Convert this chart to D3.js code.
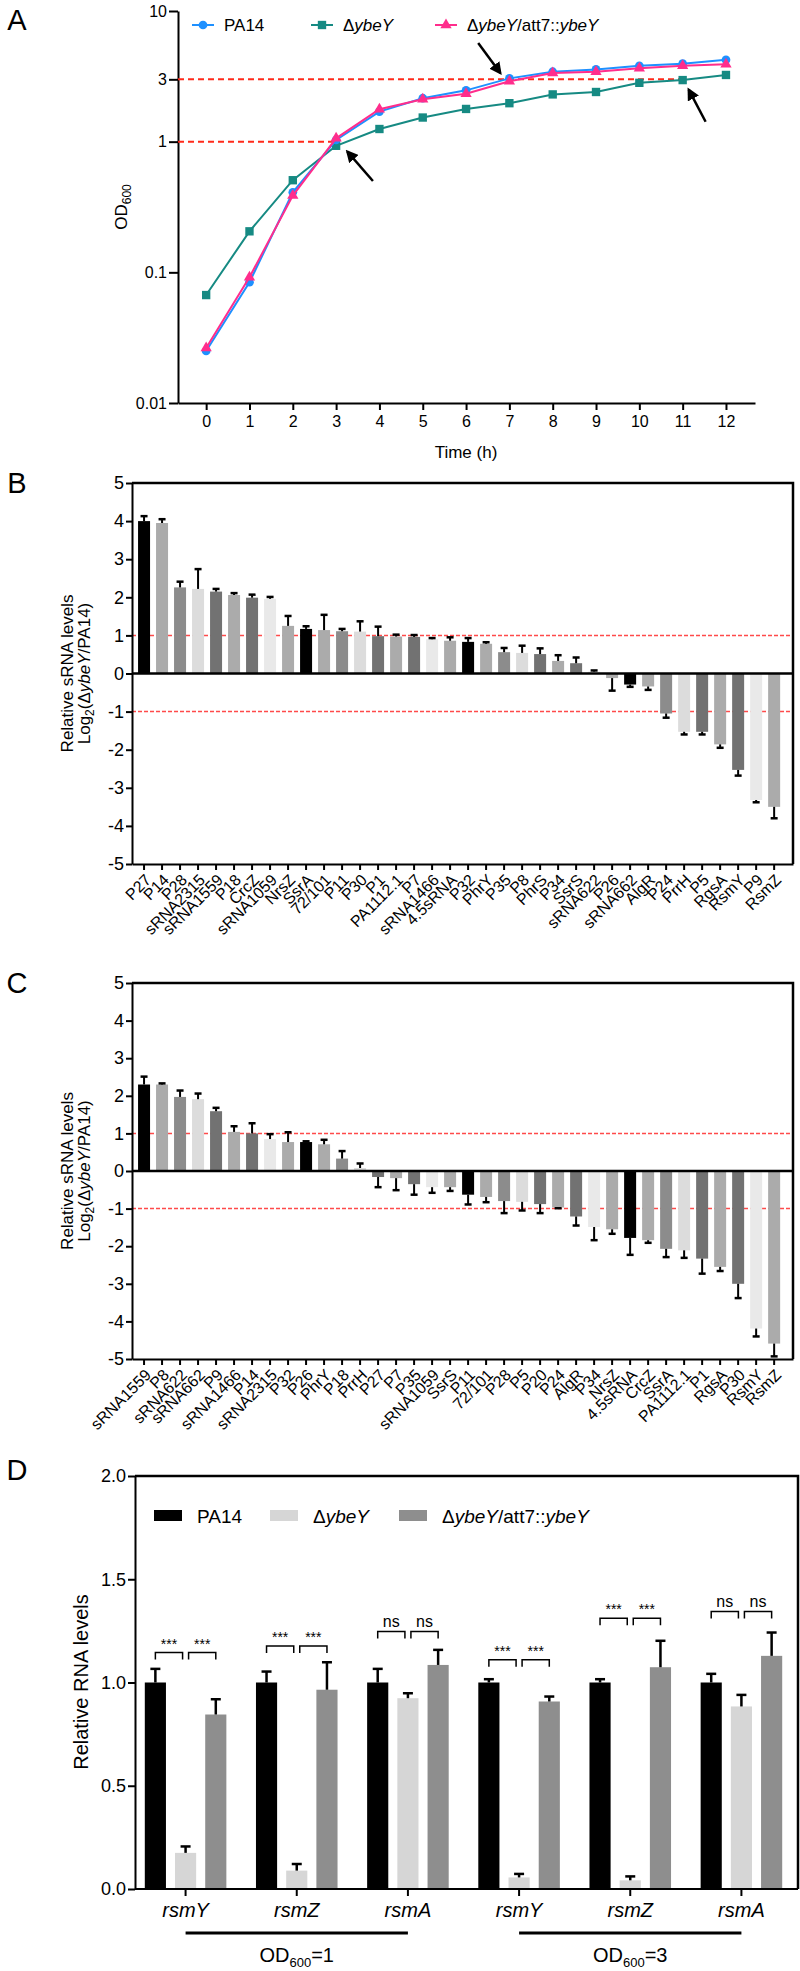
<!DOCTYPE html>
<meta charset="utf-8">
<style>
body { margin: 0; background: #fff; }
svg { font-family: "Liberation Sans", Arial, Helvetica, sans-serif; }
.axis path, .axis line { stroke: #000; stroke-width: 2; fill: none; }
.axis text { fill: #000; font-family: "Liberation Sans", Arial, sans-serif; }
</style>
<body>
<script src="https://cdn.jsdelivr.net/npm/d3@7"></script>
<script>

// ---------- panel A : growth curves ----------
var hours   = [0, 1, 2, 3, 4, 5, 6, 7, 8, 9, 10, 11, 12];
var odPA14  = [0.025, 0.084, 0.41, 1.03, 1.70, 2.15, 2.47, 3.05, 3.43, 3.57, 3.81, 3.95, 4.23];
var odYbeY  = [0.067, 0.206, 0.507, 0.93, 1.25, 1.53, 1.78, 1.97, 2.30, 2.40, 2.82, 2.96, 3.24];
var odComp  = [0.0264, 0.0916, 0.387, 1.06, 1.77, 2.11, 2.33, 2.90, 3.35, 3.43, 3.64, 3.81, 3.91];
var odTicks = [0.01, 0.1, 1, 3, 10];
// dashed guides: OD level, drawn up to this hour
var guideOD   = [1, 3];
var guideHour = [3, 11];
// arrows: tail (h, OD) -> head (h, OD)
var arrowFrom = [[3.85, 0.50], [6.28, 5.7], [11.53, 1.42]];
var arrowTo   = [[3.26, 0.84], [6.79, 3.35], [11.14, 2.5]];

// ---------- panel B : sRNA at OD600 = 1 ----------
var namesB = ["P27","P14","P28","sRNA2315","sRNA1559","P18","CrcZ","sRNA1059","NrsZ","SsrA",
  "72/101","P11","P30","P1","PA1112.1","P7","sRNA1466","4.5sRNA","P32","PhrY",
  "P35","P8","PhrS","P34","SsrS","sRNA622","P26","sRNA662","AlgR","P24",
  "PrrH","P5","RgsA","RsmY","P9","RsmZ"];
var valsB = [4.0, 3.95, 2.26, 2.22, 2.15, 2.06, 1.99, 1.96, 1.25, 1.17,
  1.14, 1.11, 1.10, 0.98, 0.97, 0.96, 0.90, 0.86, 0.83, 0.78,
  0.56, 0.54, 0.51, 0.33, 0.27, 0.05, -0.12, -0.29, -0.34, -1.05,
  -1.53, -1.53, -1.86, -2.53, -3.32, -3.50];
var errB = [0.13, 0.10, 0.15, 0.52, 0.07, 0.05, 0.08, 0.05, 0.26, 0.07,
  0.40, 0.06, 0.27, 0.25, 0.05, 0.05, 0.03, 0.09, 0.10, 0.04,
  0.11, 0.19, 0.15, 0.15, 0.15, 0.03, 0.33, 0.06, 0.09, 0.11,
  0.07, 0.07, 0.09, 0.15, 0.06, 0.30];

// ---------- panel C : sRNA at OD600 = 3 ----------
var namesC = ["sRNA1559","P8","sRNA622","sRNA662","P9","sRNA1466","P14","sRNA2315","P32","P26",
  "PhrY","P18","PrrH","P27","P7","P35","sRNA1059","SsrS","P11","72/101",
  "P28","P5","P20","P24","AlgR","P34","NrsZ","4.5sRNA","CrcZ","SsrA",
  "PA1112.1","P1","RgsA","P30","RsmY","RsmZ"];
var valsC = [2.30, 2.30, 1.97, 1.91, 1.59, 1.04, 1.00, 0.85, 0.77, 0.77,
  0.71, 0.33, 0.08, -0.16, -0.19, -0.35, -0.43, -0.43, -0.63, -0.69,
  -0.80, -0.82, -0.88, -0.97, -1.21, -1.49, -1.55, -1.78, -1.84, -2.07,
  -2.11, -2.33, -2.55, -3.00, -4.19, -4.59];
var errC = [0.21, 0.03, 0.17, 0.15, 0.09, 0.15, 0.27, 0.13, 0.26, 0.02,
  0.12, 0.20, 0.12, 0.27, 0.32, 0.28, 0.15, 0.10, 0.26, 0.14,
  0.32, 0.23, 0.24, 0.02, 0.24, 0.35, 0.12, 0.45, 0.07, 0.22,
  0.20, 0.40, 0.11, 0.38, 0.21, 0.34];

// ---------- panel D : rsmY / rsmZ / rsmA ----------
var genesD   = ["rsmY", "rsmZ", "rsmA", "rsmY", "rsmZ", "rsmA"];
var meanPA14 = [1.0, 1.0, 1.0, 1.0, 1.0, 1.0];
var meanYbeY = [0.175, 0.089, 0.924, 0.056, 0.042, 0.884];
var meanComp = [0.845, 0.965, 1.085, 0.908, 1.074, 1.129];
var sdPA14   = [0.066, 0.053, 0.066, 0.016, 0.016, 0.042];
var sdYbeY   = [0.031, 0.032, 0.024, 0.017, 0.019, 0.056];
var sdComp   = [0.074, 0.133, 0.073, 0.024, 0.128, 0.113];
var sigText  = ["***", "***", "ns", "***", "***", "ns"];
var sigLevel = [1.145, 1.177, 1.247, 1.110, 1.311, 1.344];
var odGroupLabel = ["1", "3"];
var odGroupFirst = [0, 3];
var odGroupLast  = [2, 5];

// bar greys, cycled along the categories
var greys = ["#000000", "#ababab", "#8c8c8c", "#dcdcdc", "#727272", "#ababab", "#727272", "#e9e9e9", "#ababab"];

var svg = d3.select("body").append("svg")
    .attr("width", 800)
    .attr("height", 1971);

function panelLetter(t, x, y) {
  svg.append("text").attr("x", x).attr("y", y)
    .attr("text-anchor", "middle")
    .style("font-size", "29px")
    .text(t);
}

// ================= A =================
panelLetter("A", 17, 30);

var xA = d3.scaleLinear().domain([-0.65, 12.67]).range([178, 755]);
var yA = d3.scaleLog().domain([0.01, 10]).range([403, 11]);

svg.append("g").attr("class", "axis")
    .attr("transform", "translate(0,403)")
    .call(d3.axisBottom(xA).tickValues(hours).tickSize(7).tickSizeOuter(0).tickPadding(6))
    .selectAll("text").style("font-size", "16px");

svg.append("g").attr("class", "axis")
    .attr("transform", "translate(178,0)")
    .call(d3.axisLeft(yA).tickValues(odTicks).tickFormat(function(d) { return String(d); }).tickSize(9).tickSizeOuter(0).tickPadding(2))
    .selectAll("text").style("font-size", "16px");

svg.append("text")
    .attr("x", 466).attr("y", 458)
    .attr("text-anchor", "middle")
    .style("font-size", "17px")
    .text("Time (h)");

var odLab = svg.append("text")
    .attr("transform", "translate(127,207) rotate(-90)")
    .attr("text-anchor", "middle")
    .style("font-size", "17px");
odLab.append("tspan").text("OD");
odLab.append("tspan").attr("dy", 4).style("font-size", "12px").text("600");

// dashed guides
guideOD.forEach(function(od, i) {
  svg.append("line")
    .attr("x1", xA.range()[0]).attr("x2", xA(guideHour[i]))
    .attr("y1", yA(od)).attr("y2", yA(od))
    .attr("stroke", "#ff2a1a").attr("stroke-width", 2)
    .attr("stroke-dasharray", "6,4");
});

var seriesA = [
  { name: "ybeY", vals: odYbeY, color: "#168a83", sym: d3.symbolSquare, size: 70 },
  { name: "PA14", vals: odPA14, color: "#1e90ff", sym: d3.symbolCircle, size: 60 },
  { name: "comp", vals: odComp, color: "#ff2d8c", sym: d3.symbolTriangle, size: 55 }
];

var lineA = d3.line()
    .x(function(d, i) { return xA(hours[i]); })
    .y(function(d) { return yA(d); });

seriesA.forEach(function(s) {
  svg.append("path")
    .attr("d", lineA(s.vals))
    .attr("fill", "none")
    .attr("stroke", s.color)
    .attr("stroke-width", 2);
  svg.selectAll(null).data(s.vals).enter().append("path")
    .attr("d", d3.symbol().type(s.sym).size(s.size))
    .attr("transform", function(d, i) { return "translate(" + xA(hours[i]) + "," + yA(d) + ")"; })
    .attr("fill", s.color);
});

// arrows
svg.append("defs").append("marker")
    .attr("id", "head")
    .attr("viewBox", "0 0 10 10")
    .attr("refX", 8).attr("refY", 5)
    .attr("markerWidth", 5).attr("markerHeight", 5)
    .attr("orient", "auto")
  .append("path")
    .attr("d", "M0,0 L10,5 L0,10 z")
    .attr("fill", "#000");

arrowFrom.forEach(function(a, i) {
  svg.append("line")
    .attr("x1", xA(a[0])).attr("y1", yA(a[1]))
    .attr("x2", xA(arrowTo[i][0])).attr("y2", yA(arrowTo[i][1]))
    .attr("stroke", "#000").attr("stroke-width", 2.5)
    .attr("marker-end", "url(#head)");
});

// legend A
var legA = [
  { x: 192, color: "#1e90ff", sym: d3.symbolCircle, size: 60, parts: [["PA14", "normal"]] },
  { x: 311, color: "#168a83", sym: d3.symbolSquare, size: 70, parts: [["\u0394", "normal"], ["ybeY", "italic"]] },
  { x: 435, color: "#ff2d8c", sym: d3.symbolTriangle, size: 55, parts: [["\u0394", "normal"], ["ybeY", "italic"], ["/att7::", "normal"], ["ybeY", "italic"]] }
];
legA.forEach(function(l) {
  svg.append("line").attr("x1", l.x).attr("x2", l.x + 22).attr("y1", 25).attr("y2", 25)
    .attr("stroke", l.color).attr("stroke-width", 2);
  svg.append("path").attr("d", d3.symbol().type(l.sym).size(l.size)())
    .attr("transform", "translate(" + (l.x + 11) + ",25)").attr("fill", l.color);
  var t = svg.append("text").attr("x", l.x + 32).attr("y", 31).style("font-size", "17px");
  l.parts.forEach(function(p) { t.append("tspan").style("font-style", p[1]).text(p[0]); });
});

// ================= B and C =================
function yLabel2(cx, cy) {
  svg.append("text")
    .attr("transform", "translate(" + cx + "," + cy + ") rotate(-90)")
    .attr("text-anchor", "middle")
    .style("font-size", "17px")
    .text("Relative sRNA levels");
  var t = svg.append("text")
    .attr("transform", "translate(" + (cx + 17) + "," + cy + ") rotate(-90)")
    .attr("text-anchor", "middle")
    .style("font-size", "17px");
  t.append("tspan").text("Log");
  t.append("tspan").attr("dy", 4).style("font-size", "12px").text("2");
  t.append("tspan").attr("dy", -4).text("(\u0394");
  t.append("tspan").style("font-style", "italic").text("ybeY");
  t.append("tspan").text("/PA14)");
}

function sRNAPanel(letter, names, vals, errs, yTop, yBot) {
  var left = 132, right = 793;
  var x = d3.scaleBand().domain(names).range([left, right])
      .paddingInner(1 / 3).paddingOuter(0.525).align(0.32);
  var y = d3.scaleLinear().domain([-5, 5]).range([yBot, yTop]);

  panelLetter(letter, 17, y(5) + 10);
  yLabel2(73, y(0));

  // guides at +-1
  [1, -1].forEach(function(v) {
    svg.append("line")
      .attr("x1", left).attr("x2", right)
      .attr("y1", y(v)).attr("y2", y(v))
      .attr("stroke", "#ff4a4a").attr("stroke-width", 1.5)
      .attr("stroke-dasharray", "4,2");
  });

  var bw = x.bandwidth();
  svg.selectAll(null).data(vals).enter().append("rect")
    .attr("x", function(d, i) { return x(names[i]); })
    .attr("y", function(d) { return Math.min(y(d), y(0)); })
    .attr("width", bw)
    .attr("height", function(d) { return Math.abs(y(d) - y(0)); })
    .attr("fill", function(d, i) { return greys[i % greys.length]; });

  // error bars away from zero
  vals.forEach(function(v, i) {
    var cx = x(names[i]) + bw / 2;
    var end = v >= 0 ? v + errs[i] : v - errs[i];
    svg.append("line").attr("x1", cx).attr("x2", cx)
      .attr("y1", y(v)).attr("y2", y(end))
      .attr("stroke", "#000").attr("stroke-width", 2);
    svg.append("line").attr("x1", cx - 3.5).attr("x2", cx + 3.5)
      .attr("y1", y(end)).attr("y2", y(end))
      .attr("stroke", "#000").attr("stroke-width", 2.5);
  });

  // frame and zero line
  svg.append("path")
    .attr("d", "M" + left + "," + y(5) + "H" + right + "V" + y(-5))
    .attr("fill", "none").attr("stroke", "#000").attr("stroke-width", 2.5);
  svg.append("line").attr("x1", left).attr("x2", right)
    .attr("y1", y(0)).attr("y2", y(0))
    .attr("stroke", "#000").attr("stroke-width", 2.5);

  svg.append("g").attr("class", "axis")
    .attr("transform", "translate(" + left + ",0)")
    .call(d3.axisLeft(y).ticks(10).tickFormat(function(d) { return String(d); }).tickSize(6).tickSizeOuter(0).tickPadding(2))
    .selectAll("text").style("font-size", "18px");

  var gx = svg.append("g").attr("class", "axis")
    .attr("transform", "translate(0," + y(-5) + ")")
    .call(d3.axisBottom(x).tickSize(6).tickSizeOuter(0));
  gx.selectAll("text")
    .attr("text-anchor", "end")
    .attr("x", 0).attr("y", 0).attr("dy", 0)
    .attr("transform", "translate(8,17) rotate(-45)")
    .style("font-size", "16px");
}

sRNAPanel("B", namesB, valsB, errB, 483, 864);
sRNAPanel("C", namesC, valsC, errC, 983, 1359);

// ================= D =================
panelLetter("D", 17, 1480);

var xD = d3.scaleBand().domain(d3.range(genesD.length)).range([130, 797]).paddingInner(0).paddingOuter(0);
var strainsD = ["PA14", "ybeY", "comp"];
var xSub = d3.scaleBand().domain(strainsD).range([0, xD.bandwidth()]).paddingInner(0.3).paddingOuter(0.49);
var yD = d3.scaleLinear().domain([0, 2]).range([1889, 1476]);
var colD = { PA14: "#000000", ybeY: "#d6d6d6", comp: "#8e8e8e" };
var meansD = { PA14: meanPA14, ybeY: meanYbeY, comp: meanComp };
var sdsD = { PA14: sdPA14, ybeY: sdYbeY, comp: sdComp };

function cxD(g, s) { return xD(g) + xSub(s) + xSub.bandwidth() / 2; }

strainsD.forEach(function(s) {
  svg.selectAll(null).data(meansD[s]).enter().append("rect")
    .attr("x", function(d, g) { return xD(g) + xSub(s); })
    .attr("y", function(d) { return yD(d); })
    .attr("width", xSub.bandwidth())
    .attr("height", function(d) { return yD(0) - yD(d); })
    .attr("fill", colD[s]);
  meansD[s].forEach(function(m, g) {
    var c = cxD(g, s), top = m + sdsD[s][g];
    svg.append("line").attr("x1", c).attr("x2", c).attr("y1", yD(m)).attr("y2", yD(top))
      .attr("stroke", "#000").attr("stroke-width", 2.5);
    svg.append("line").attr("x1", c - 5).attr("x2", c + 5).attr("y1", yD(top)).attr("y2", yD(top))
      .attr("stroke", "#000").attr("stroke-width", 2.5);
  });
});

// significance brackets
genesD.forEach(function(gn, g) {
  var yb = yD(sigLevel[g]);
  var pairs = [[cxD(g, "PA14"), cxD(g, "ybeY") - 3], [cxD(g, "ybeY") + 3, cxD(g, "comp")]];
  pairs.forEach(function(p) {
    svg.append("path")
      .attr("d", "M" + p[0] + "," + (yb + 7) + "V" + yb + "H" + p[1] + "V" + (yb + 7))
      .attr("fill", "none").attr("stroke", "#000").attr("stroke-width", 1.5);
    svg.append("text")
      .attr("x", (p[0] + p[1]) / 2).attr("y", yb - 4)
      .attr("text-anchor", "middle")
      .style("font-size", sigText[g] === "ns" ? "16px" : "14px")
      .text(sigText[g]);
  });
});

// frame
svg.append("path")
    .attr("d", "M135," + yD(2) + "H798V" + yD(0))
    .attr("fill", "none").attr("stroke", "#000").attr("stroke-width", 2.5);

svg.append("g").attr("class", "axis")
    .attr("transform", "translate(135,0)")
    .call(d3.axisLeft(yD).tickValues([0, 0.5, 1, 1.5, 2]).tickFormat(d3.format(".1f")).tickSize(7).tickSizeOuter(0).tickPadding(2))
    .selectAll("text").style("font-size", "18px");

var gxD = svg.append("g").attr("class", "axis")
    .attr("transform", "translate(0," + yD(0) + ")")
    .call(d3.axisBottom(xD).tickSize(7).tickSizeOuter(0).tickFormat(function(i) { return genesD[i]; }));
gxD.select(".domain").attr("d", "M135,0H798");
gxD.selectAll("text")
    .attr("y", 14)
    .style("font-size", "20px")
    .style("font-style", "italic");

svg.append("text")
    .attr("transform", "translate(88,1682) rotate(-90)")
    .attr("text-anchor", "middle")
    .style("font-size", "20px")
    .text("Relative RNA levels");

// OD600 groups under the axis
odGroupLabel.forEach(function(lab, k) {
  var x0 = xD(odGroupFirst[k]) + xD.bandwidth() / 2;
  var x1 = xD(odGroupLast[k]) + xD.bandwidth() / 2;
  svg.append("line").attr("x1", x0).attr("x2", x1).attr("y1", 1933).attr("y2", 1933)
    .attr("stroke", "#000").attr("stroke-width", 3);
  var t = svg.append("text").attr("x", (x0 + x1) / 2).attr("y", 1962)
    .attr("text-anchor", "middle").style("font-size", "20px");
  t.append("tspan").text("OD");
  t.append("tspan").attr("dy", 5).style("font-size", "13px").text("600");
  t.append("tspan").attr("dy", -5).text("=" + lab);
});

// legend D
var legD = [
  { x: 154, key: "PA14", parts: [["PA14", "normal"]] },
  { x: 270, key: "ybeY", parts: [["\u0394", "normal"], ["ybeY", "italic"]] },
  { x: 399, key: "comp", parts: [["\u0394", "normal"], ["ybeY", "italic"], ["/att7::", "normal"], ["ybeY", "italic"]] }
];
legD.forEach(function(l) {
  svg.append("rect").attr("x", l.x).attr("y", 1510).attr("width", 28).attr("height", 11)
    .attr("fill", colD[l.key]);
  var t = svg.append("text").attr("x", l.x + 43).attr("y", 1523).style("font-size", "19px");
  l.parts.forEach(function(p) { t.append("tspan").style("font-style", p[1]).text(p[0]); });
});

</script>
</body>
